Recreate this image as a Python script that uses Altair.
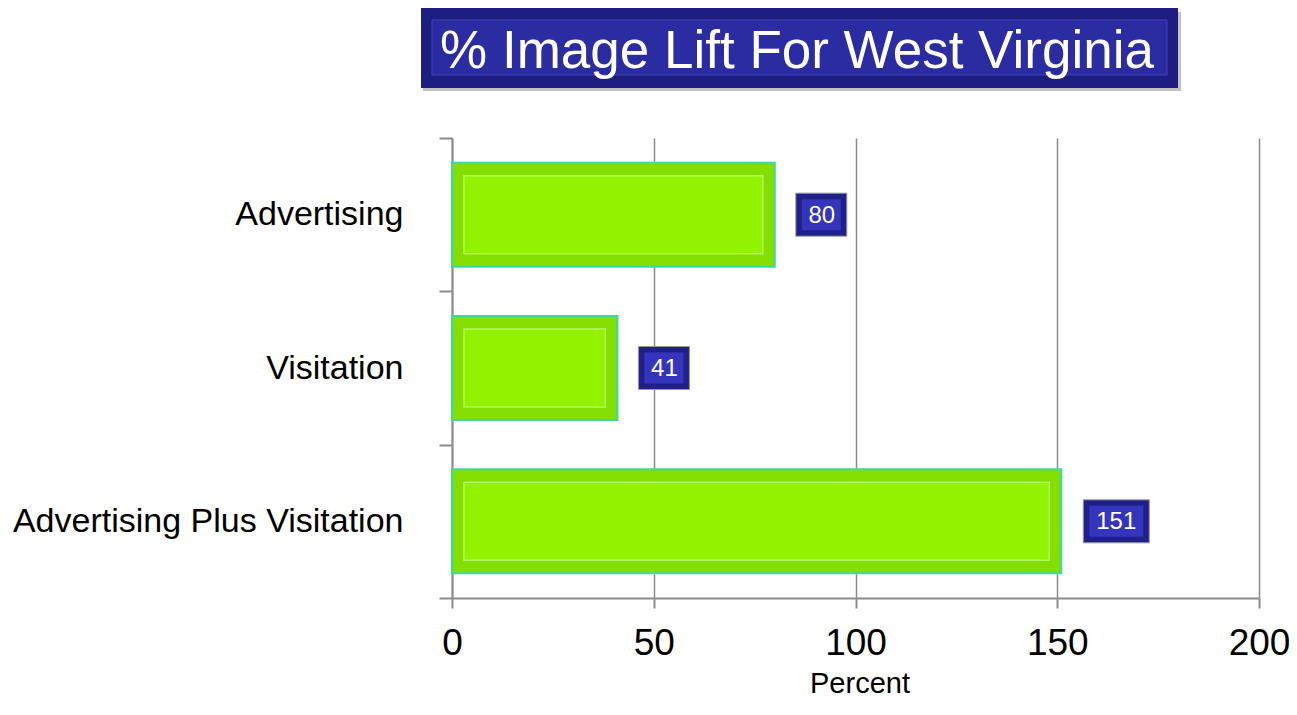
import altair as alt
import pandas as pd

categories = ["Advertising", "Visitation", "Advertising Plus Visitation"]
values = [80, 41, 151]
x_ticks = [0, 50, 100, 150, 200]
x_domain = [0, 200]
title_text = "% Image Lift For West Virginia"
x_title = "Percent"

df = pd.DataFrame({"category": categories, "value": values})
title_df = pd.DataFrame({"t": [title_text]})
xtitle_df = pd.DataFrame({"t": [x_title]})

W, H = 807, 460
GRAY = "#8c8c8c"
FONT = "Liberation Sans"

x_axis = alt.Axis(
    values=x_ticks, title=None, grid=True, gridColor=GRAY, gridWidth=1.5,
    tickSize=10, tickColor=GRAY, tickWidth=2, domainColor=GRAY, domainWidth=2,
    labelFont=FONT, labelFontSize=37, labelColor="black",
    labelPadding=17, labelFlush=False,
)
y_axis = alt.Axis(
    title=None, labelFont=FONT, labelFontSize=34,
    labelColor="black", labelPadding=36, tickSize=13, tickBand="extent",
    tickColor=GRAY, tickWidth=2, domainColor=GRAY, domainWidth=2, labelLimit=600,
)
x_scale = alt.Scale(domain=x_domain, nice=False, zero=True)
y_scale = alt.Scale(paddingInner=0, paddingOuter=0)


def xe(field):
    return alt.X(field, type="quantitative", scale=x_scale, axis=x_axis)


ye = alt.Y("category:N", sort=categories, scale=y_scale, axis=y_axis)

base = alt.Chart(df).transform_calculate(zero="0")

bars = base.mark_bar(size=104, color="#84DE00", stroke="#3CD9A6", strokeWidth=2).encode(
    x=xe("zero"), x2="value:Q", y=ye
)
inner = base.mark_bar(
    fill="#93F200", stroke="#B4F760", strokeWidth=1.5, size=78,
    xOffset=12, x2Offset=-12,
).encode(x=xe("zero"), x2="value:Q", y=ye)

small = base.transform_filter("datum.value < 100")
big = base.transform_filter("datum.value >= 100")


def box_layers(src, off1, off2, dx):
    outer = src.mark_bar(
        size=43, fill="#20208A", stroke="#9a9a9a", strokeWidth=1,
        xOffset=off1, x2Offset=off2,
    ).encode(x=xe("value"), x2="value:Q", y=ye)
    inn = src.mark_bar(
        size=31, fill="#3434BC", xOffset=off1 + 6, x2Offset=off2 - 6,
    ).encode(x=xe("value"), x2="value:Q", y=ye)
    txt = src.mark_text(
        color="white", font=FONT, fontSize=24, align="center",
        baseline="middle", dx=dx, dy=1,
    ).encode(x=xe("value"), y=ye, text="value:Q")
    return [outer, inn, txt]


labels = box_layers(small, 21, 72, 47) + box_layers(big, 22, 88, 55)

tb = alt.Chart(title_df)
t_shadow = tb.mark_rect(fill="#9a9a9a", opacity=0.6).encode(
    x=alt.value(-29), x2=alt.value(729), y=alt.value(-126), y2=alt.value(-47)
)
t_outer = tb.mark_rect(fill="#1E1E80").encode(
    x=alt.value(-31), x2=alt.value(726), y=alt.value(-130), y2=alt.value(-50)
)
t_inner = tb.mark_rect(fill="#2C2CA2", stroke="#3E3EB8", strokeWidth=1).encode(
    x=alt.value(-20), x2=alt.value(715), y=alt.value(-118), y2=alt.value(-63)
)
t_text = tb.mark_text(
    color="white", font=FONT, fontSize=53, align="center",
    baseline="alphabetic",
).encode(x=alt.value(345), y=alt.value(-70), text="t:N")

xt = alt.Chart(xtitle_df).mark_text(
    color="black", font=FONT, fontSize=29, align="center",
    baseline="alphabetic",
).encode(x=alt.value(408), y=alt.value(H + 95), text="t:N")

chart = alt.layer(
    bars, inner, *labels, t_shadow, t_outer, t_inner, t_text, xt
).properties(
    width=W, height=H,
    autosize=alt.AutoSizeParams(type="none"),
    padding={"left": 444, "top": 130, "right": 30, "bottom": 103},
).configure_view(stroke=None)

chart.save("out.html", embed_options={"renderer": "svg", "actions": False})
